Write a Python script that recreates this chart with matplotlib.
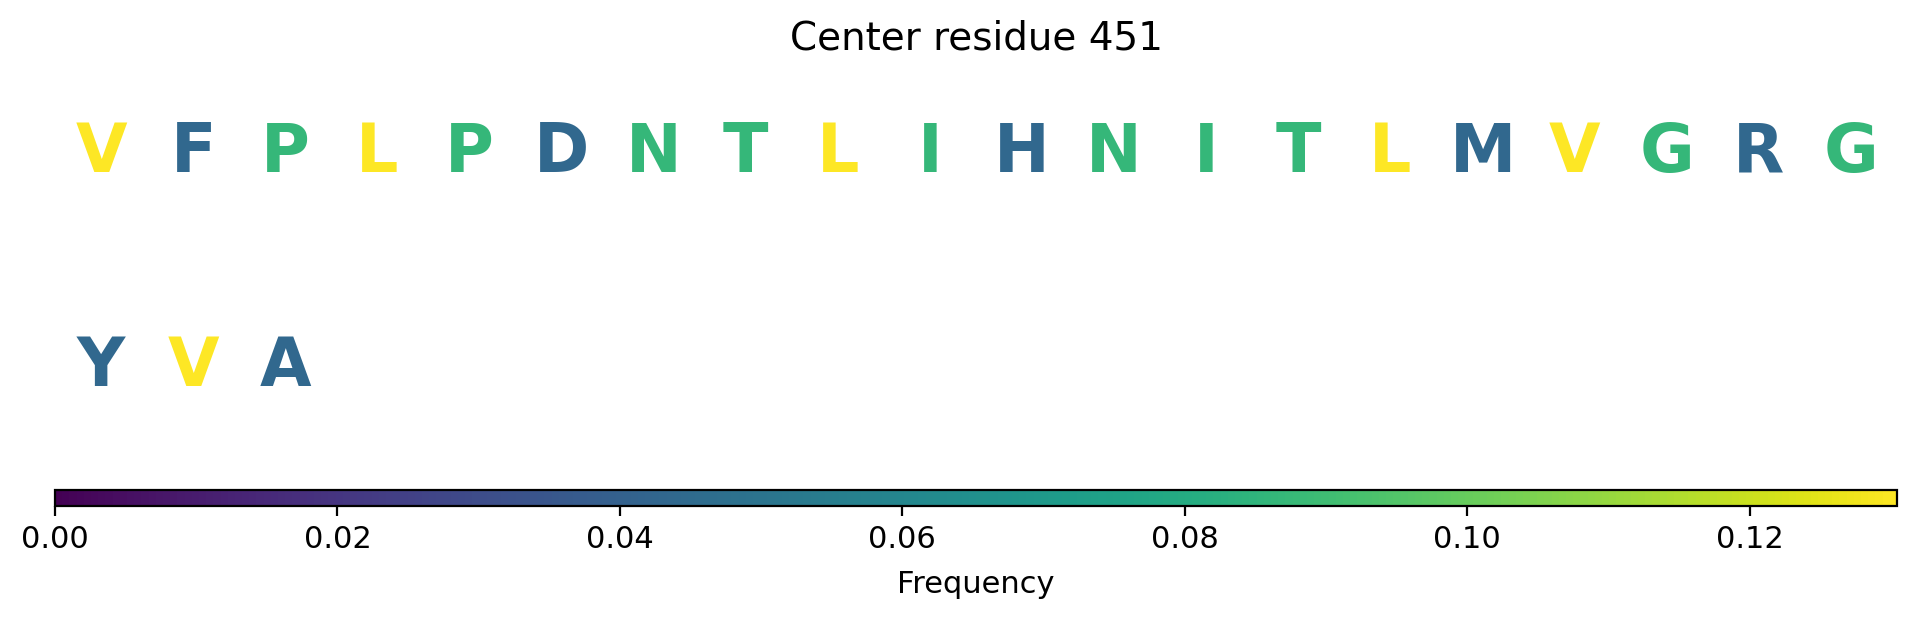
import matplotlib

matplotlib.use("Agg")

from collections import Counter

from matplotlib import pyplot as plt  # noqa: E402
from matplotlib import cm, colors  # noqa: E402

center_residue = 451
residues = list("VFPLPDNTLIHNITLMVGRGYVA")
n_cols = 20

counts = Counter(residues)
freqs = [counts[r] / len(residues) for r in residues]

fig = plt.figure(figsize=(9.585, 3.095), dpi=200)
ax = fig.add_axes([0.0287, 0.2342, 0.9609, 0.691])
cax = fig.add_axes([0.0287, 0.1826, 0.9609, 0.0258])

norm = colors.Normalize(vmin=0, vmax=max(freqs))
cmap = plt.get_cmap("viridis")

n_rows = (len(residues) + n_cols - 1) // n_cols
for i, (res, f) in enumerate(zip(residues, freqs)):
    row, col = divmod(i, n_cols)
    ax.text(col + 0.5, row + 0.5, res, ha="center", va="center",
            fontsize=24, fontweight="bold", color=cmap(norm(f)))

ax.set_xlim(0, n_cols)
ax.set_ylim(n_rows, 0)
ax.axis("off")
# fixed y turns off matplotlib's automatic title placement
ax.set_title(f"Center residue {center_residue}", fontsize=14, y=1.0, pad=-1)

sm = cm.ScalarMappable(norm=norm, cmap=cmap)
cb = fig.colorbar(sm, cax=cax, orientation="horizontal")
cb.set_label("Frequency", fontsize=11, labelpad=5.5)
cb.ax.tick_params(labelsize=11)

fig.savefig("out.png", dpi=200)
plt.close(fig)
